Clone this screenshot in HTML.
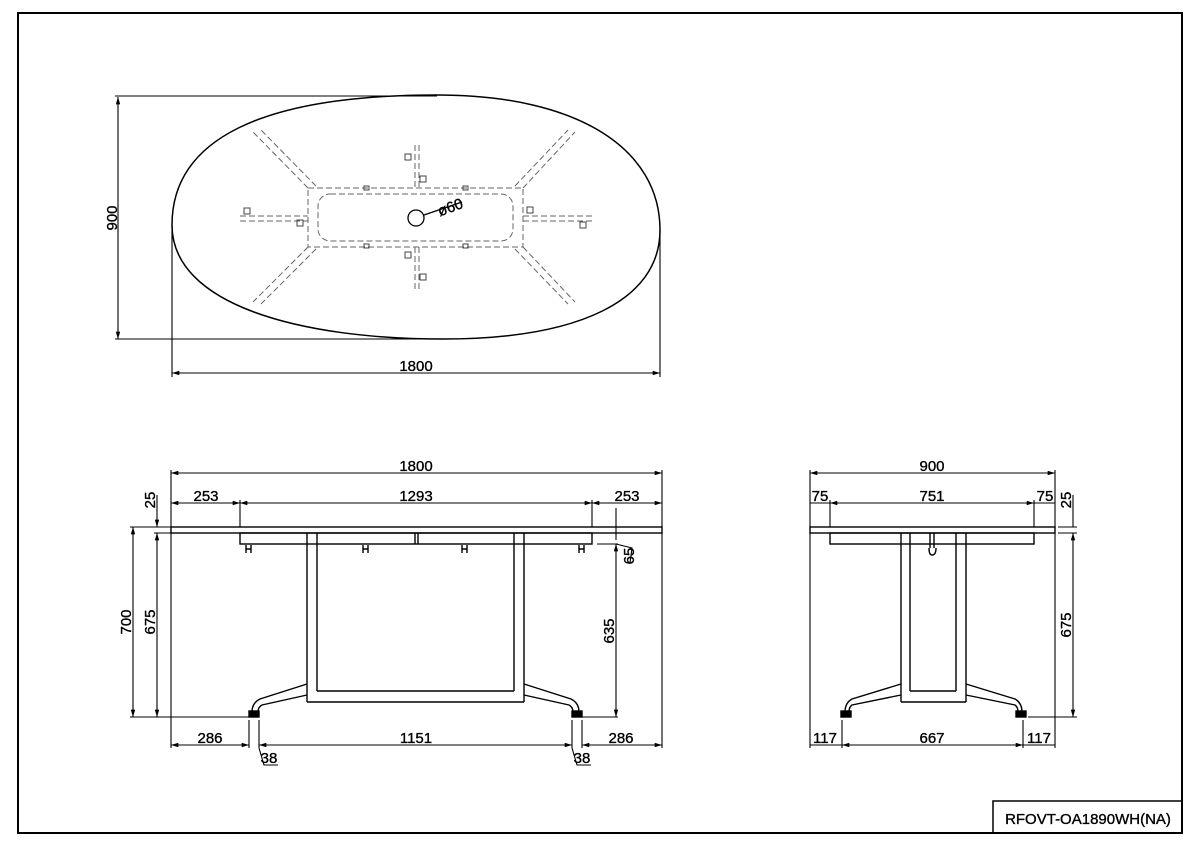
<!DOCTYPE html>
<html><head><meta charset="utf-8"><style>
html,body{margin:0;padding:0;background:#fff}
svg{display:block}
text{font-family:"Liberation Sans",sans-serif;font-size:15px;fill:#000;stroke:#000;stroke-width:0.35px}
</style></head><body>
<svg width="1200" height="848" viewBox="0 0 1200 848" xmlns="http://www.w3.org/2000/svg">
<defs>
<marker id="a" viewBox="0 0 10 6" refX="10" refY="3" markerWidth="8" markerHeight="4" orient="auto-start-reverse"><path d="M0,0L10,3L0,6z" fill="#000"/></marker>
</defs>
<g fill="none" stroke="#000">
<rect x="18" y="13" width="1164" height="820" stroke-width="2"/>
<rect x="993" y="801" width="189" height="32" stroke-width="1.5"/>

<path d="M172,225 C172,140 260,95 437,95 C580,95 660,150 660,230 C660,300 580,339 443,339 C300,339 172,305 172,225Z" stroke-width="1.5"/>
<g stroke-width="1.1" marker-end="url(#a)" marker-start="url(#a)">
<line x1="118" y1="97" x2="118" y2="339"/>
<line x1="172" y1="373" x2="660" y2="373"/>
</g>
<g stroke-width="1.1">
<line x1="115" y1="96" x2="437" y2="96"/>
<line x1="115" y1="339" x2="443" y2="339"/>
<line x1="172" y1="225" x2="172" y2="377"/>
<line x1="660" y1="230" x2="660" y2="377"/>
</g>
<g stroke="#666" stroke-width="1" stroke-dasharray="6,3">
<rect x="308" y="188" width="215" height="59"/>
<rect x="318" y="194" width="195" height="47" rx="12"/>
<line x1="308" y1="188" x2="253" y2="132"/><line x1="316" y1="186" x2="261" y2="130"/>
<line x1="523" y1="188" x2="575" y2="132"/><line x1="515" y1="186" x2="568" y2="130"/>
<line x1="308" y1="247" x2="253" y2="302"/><line x1="316" y1="249" x2="261" y2="304"/>
<line x1="523" y1="247" x2="575" y2="302"/><line x1="515" y1="249" x2="568" y2="304"/>
<line x1="240" y1="216" x2="308" y2="216"/><line x1="240" y1="221" x2="308" y2="221"/>
<line x1="523" y1="216" x2="592" y2="216"/><line x1="523" y1="221" x2="592" y2="221"/>
<line x1="415" y1="145" x2="415" y2="188"/><line x1="419" y1="145" x2="419" y2="188"/>
<line x1="415" y1="247" x2="415" y2="290"/><line x1="419" y1="247" x2="419" y2="290"/>
</g>
<g stroke="#444" stroke-width="1">
<rect x="405" y="154" width="6" height="6"/><rect x="420" y="176" width="6" height="6"/>
<rect x="405" y="252" width="6" height="6"/><rect x="420" y="274" width="6" height="6"/>
<rect x="244" y="208" width="6" height="6"/><rect x="297" y="220" width="6" height="6"/>
<rect x="527" y="207" width="6" height="6"/><rect x="580" y="222" width="6" height="6"/>
<rect x="364" y="186" width="5" height="4"/><rect x="463" y="186" width="5" height="4"/>
<rect x="364" y="244" width="5" height="4"/><rect x="463" y="244" width="5" height="4"/>
</g>
<circle cx="416" cy="218" r="8" stroke-width="1.3"/>
<line x1="424" y1="215" x2="462" y2="202" stroke-width="1.3"/>

<g stroke-width="1.4">
<rect x="171" y="527" width="491" height="6"/>
<rect x="240" y="533" width="352" height="11"/>
<line x1="415" y1="533" x2="415" y2="544"/><line x1="418" y1="533" x2="418" y2="544"/>
<path d="M307,533V702M317,533V691M514,533V691M524,533V702M317,691H514M307,702H524"/>
<path d="M307,684L260,699Q252,703 252,712M307,695L262,705Q258,707 258,712"/>
<path d="M524,684L571,699Q579,703 579,712M524,695L569,705Q573,707 573,712"/>
<rect x="249" y="711" width="10" height="6" fill="#000"/>
<rect x="572" y="711" width="10" height="6" fill="#000"/>
<path d="M246,545v8M251,545v8M246,549h5M363,545v8M368,545v8M363,549h5M462,545v8M467,545v8M462,549h5M579,545v8M584,545v8M579,549h5"/>
</g>
<g stroke-width="1.1">
<line x1="171" y1="470" x2="171" y2="527"/><line x1="662" y1="470" x2="662" y2="527"/>
<line x1="240" y1="500" x2="240" y2="527"/><line x1="592" y1="500" x2="592" y2="527"/>
<line x1="130" y1="527" x2="171" y2="527"/><line x1="130" y1="717" x2="249" y2="717"/>
<line x1="154" y1="533" x2="171" y2="533"/>
<line x1="582" y1="717" x2="618" y2="717"/><line x1="597" y1="544" x2="618" y2="544"/>
<line x1="171" y1="533" x2="171" y2="748"/><line x1="662" y1="533" x2="662" y2="748"/>
<line x1="249" y1="720" x2="249" y2="748"/><line x1="259" y1="720" x2="259" y2="748"/>
<line x1="572" y1="720" x2="572" y2="748"/><line x1="582" y1="720" x2="582" y2="748"/>
<line x1="616" y1="508" x2="616" y2="540"/>
<path d="M616,544L632,548L630,563M259,748L264,765H278M572,748L577,765H591"/>
</g>
<g stroke-width="1.1" marker-end="url(#a)" marker-start="url(#a)">
<line x1="171" y1="473" x2="662" y2="473"/>
<line x1="171" y1="503" x2="240" y2="503"/>
<line x1="240" y1="503" x2="592" y2="503"/>
<line x1="592" y1="503" x2="662" y2="503"/>
<line x1="133" y1="527" x2="133" y2="717"/>
<line x1="157" y1="533" x2="157" y2="717"/>
<line x1="616" y1="544" x2="616" y2="717"/>
<line x1="171" y1="745" x2="249" y2="745"/>
<line x1="259" y1="745" x2="572" y2="745"/>
<line x1="582" y1="745" x2="662" y2="745"/>
</g>
<g stroke-width="1.1" marker-end="url(#a)">
<line x1="157" y1="495" x2="157" y2="527"/>
</g>

<g stroke-width="1.4">
<rect x="810" y="527" width="245" height="6"/>
<rect x="830" y="533" width="204" height="11"/>
<path d="M901,533V702M910,533V691M956,533V691M966,533V702M910,691H956M901,702H966"/>
<path d="M930,533V548M934,533V548M929,548Q929,555 932,555Q936,555 936,548"/>
<path d="M901,684L852,699Q845,703 845,712M901,695L852,705Q849,707 849,712"/>
<path d="M966,684L1015,699Q1022,703 1022,712M966,695L1015,705Q1018,707 1018,712"/>
<rect x="841" y="711" width="10" height="6" fill="#000"/>
<rect x="1016" y="711" width="10" height="6" fill="#000"/>
</g>
<g stroke-width="1.1">
<line x1="810" y1="470" x2="810" y2="527"/><line x1="1055" y1="470" x2="1055" y2="527"/>
<line x1="830" y1="500" x2="830" y2="527"/><line x1="1034" y1="500" x2="1034" y2="527"/>
<line x1="810" y1="533" x2="810" y2="748"/><line x1="1055" y1="533" x2="1055" y2="748"/>
<line x1="842" y1="720" x2="842" y2="748"/><line x1="1023" y1="720" x2="1023" y2="748"/>
<line x1="1058" y1="527" x2="1077" y2="527"/><line x1="1058" y1="533" x2="1077" y2="533"/>
<line x1="1028" y1="717" x2="1077" y2="717"/>
</g>
<g stroke-width="1.1" marker-end="url(#a)" marker-start="url(#a)">
<line x1="810" y1="473" x2="1055" y2="473"/>
<line x1="830" y1="503" x2="1034" y2="503"/>
<line x1="1073" y1="533" x2="1073" y2="717"/>
<line x1="842" y1="745" x2="1023" y2="745"/>
</g>
<g stroke-width="1.1">
<line x1="810" y1="503" x2="830" y2="503"/><line x1="1034" y1="503" x2="1055" y2="503"/>
<line x1="810" y1="745" x2="842" y2="745"/><line x1="1023" y1="745" x2="1055" y2="745"/>
<line x1="1073" y1="495" x2="1073" y2="527"/>
</g>
</g>

<text x="1088" y="824" text-anchor="middle">RFOVT-OA1890WH(NA)</text>
<text x="416" y="371" text-anchor="middle">1800</text>
<text transform="translate(117,218) rotate(-90)" text-anchor="middle">900</text>
<text transform="translate(452,212) rotate(-20)" text-anchor="middle">ø60</text>

<text x="416" y="471" text-anchor="middle">1800</text>
<text x="206" y="501" text-anchor="middle">253</text>
<text x="416" y="501" text-anchor="middle">1293</text>
<text x="627" y="501" text-anchor="middle">253</text>
<text transform="translate(155,500) rotate(-90)" text-anchor="middle">25</text>
<text transform="translate(131,622) rotate(-90)" text-anchor="middle">700</text>
<text transform="translate(155,622) rotate(-90)" text-anchor="middle">675</text>
<text transform="translate(614,631) rotate(-90)" text-anchor="middle">635</text>
<text transform="translate(634,556) rotate(-90)" text-anchor="middle">65</text>
<text x="210" y="743" text-anchor="middle">286</text>
<text x="416" y="743" text-anchor="middle">1151</text>
<text x="621" y="743" text-anchor="middle">286</text>
<text x="269" y="763" text-anchor="middle">38</text>
<text x="582" y="763" text-anchor="middle">38</text>

<text x="932" y="471" text-anchor="middle">900</text>
<text x="820" y="501" text-anchor="middle">75</text>
<text x="932" y="501" text-anchor="middle">751</text>
<text x="1045" y="501" text-anchor="middle">75</text>
<text transform="translate(1071,500) rotate(-90)" text-anchor="middle">25</text>
<text transform="translate(1071,625) rotate(-90)" text-anchor="middle">675</text>
<text x="825" y="743" text-anchor="middle">117</text>
<text x="932" y="743" text-anchor="middle">667</text>
<text x="1039" y="743" text-anchor="middle">117</text>
</svg>
</body></html>
